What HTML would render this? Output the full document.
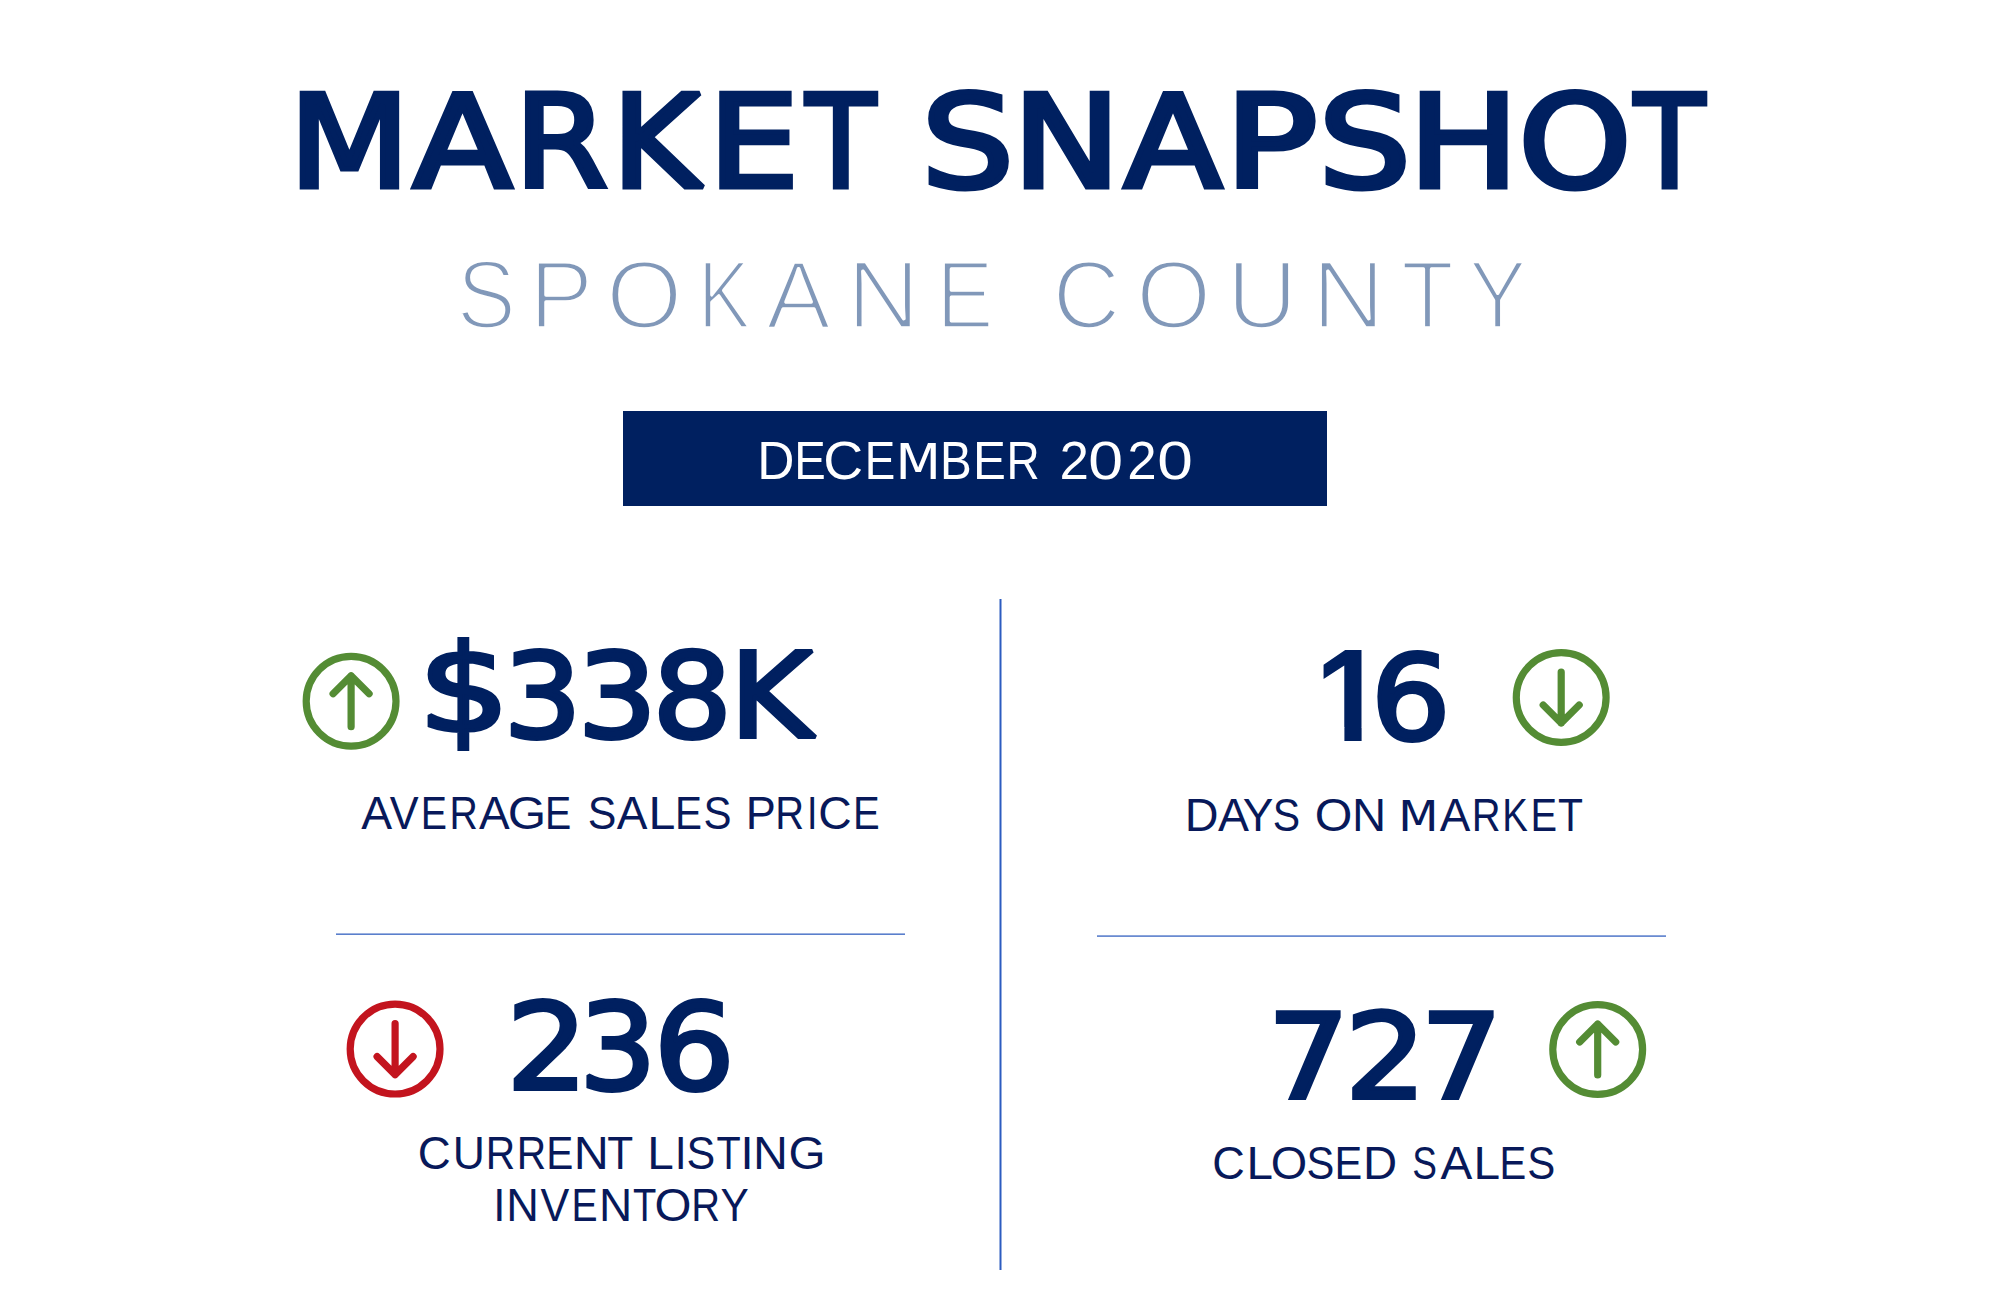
<!DOCTYPE html>
<html lang="en">
<head>
<meta charset="utf-8">
<title>Market Snapshot - Spokane County - December 2020</title>
<style>
html,body{margin:0;padding:0;background:#ffffff;}
body{width:2000px;height:1310px;overflow:hidden;position:relative;}
svg{position:absolute;left:0;top:0;display:block;}
</style>
</head>
<body>
<svg width="2000" height="1310" viewBox="0 0 2000 1310">
<defs><clipPath id="c16"><rect x="1200" y="560" width="400" height="167"/><rect x="1344.4" y="720" width="17.2" height="47"/><rect x="1383" y="727" width="200" height="40"/></clipPath></defs>
<rect x="0" y="0" width="2000" height="1310" fill="#ffffff"/>
<rect x="623" y="411" width="704" height="95" fill="#002060"/>
<rect x="999.5" y="599" width="2" height="671" fill="#2c5cc0"/>
<rect x="336" y="933.4" width="569" height="1.6" fill="#5a7fcc"/>
<rect x="1097" y="935.3" width="569" height="1.6" fill="#5a7fcc"/>
<text y="187.40" font-family="DejaVu Sans, sans-serif" font-weight="normal" font-size="128.67" fill="#002060" stroke="#002060" stroke-width="5.20" stroke-linejoin="miter" stroke-miterlimit="2"><tspan x="288.80" textLength="121.34" lengthAdjust="spacingAndGlyphs">M</tspan><tspan x="412.97" textLength="99.14" lengthAdjust="spacingAndGlyphs">A</tspan><tspan x="514.41" textLength="93.36" lengthAdjust="spacingAndGlyphs">R</tspan><tspan x="611.90" textLength="88.17" lengthAdjust="spacingAndGlyphs">K</tspan><tspan x="707.93" textLength="91.20" lengthAdjust="spacingAndGlyphs">E</tspan><tspan x="805.93" textLength="69.63" lengthAdjust="spacingAndGlyphs">T</tspan> <tspan x="921.49" textLength="92.52" lengthAdjust="spacingAndGlyphs">S</tspan><tspan x="1012.41" textLength="108.19" lengthAdjust="spacingAndGlyphs">N</tspan><tspan x="1123.98" textLength="98.11" lengthAdjust="spacingAndGlyphs">A</tspan><tspan x="1224.42" textLength="93.27" lengthAdjust="spacingAndGlyphs">P</tspan><tspan x="1318.49" textLength="92.52" lengthAdjust="spacingAndGlyphs">S</tspan><tspan x="1408.15" textLength="110.70" lengthAdjust="spacingAndGlyphs">H</tspan><tspan x="1518.55" textLength="112.91" lengthAdjust="spacingAndGlyphs">O</tspan><tspan x="1634.44" textLength="70.13" lengthAdjust="spacingAndGlyphs">T</tspan></text>
<text y="327.80" font-family="Liberation Sans, Arial, sans-serif" font-weight="normal" font-size="96.80" fill="#8198b9" stroke="#fff" stroke-width="3.60" stroke-linejoin="round"><tspan x="456.67" textLength="59.20" lengthAdjust="spacingAndGlyphs">S</tspan><tspan x="529.32" textLength="64.04" lengthAdjust="spacingAndGlyphs">P</tspan><tspan x="606.04" textLength="76.46" lengthAdjust="spacingAndGlyphs">O</tspan><tspan x="697.68" textLength="53.01" lengthAdjust="spacingAndGlyphs">K</tspan><tspan x="766.01" textLength="64.98" lengthAdjust="spacingAndGlyphs">A</tspan><tspan x="846.89" textLength="73.17" lengthAdjust="spacingAndGlyphs">N</tspan><tspan x="936.15" textLength="57.35" lengthAdjust="spacingAndGlyphs">E</tspan> <tspan x="1052.42" textLength="67.96" lengthAdjust="spacingAndGlyphs">C</tspan><tspan x="1136.11" textLength="75.32" lengthAdjust="spacingAndGlyphs">O</tspan><tspan x="1226.65" textLength="70.71" lengthAdjust="spacingAndGlyphs">U</tspan><tspan x="1311.89" textLength="73.17" lengthAdjust="spacingAndGlyphs">N</tspan><tspan x="1401.27" textLength="52.50" lengthAdjust="spacingAndGlyphs">T</tspan><tspan x="1468.79" textLength="57.92" lengthAdjust="spacingAndGlyphs">Y</tspan></text>
<text y="478.50" font-family="Liberation Sans, Arial, sans-serif" font-weight="normal" font-size="53.05" fill="#ffffff"><tspan x="757.28" textLength="37.19" lengthAdjust="spacingAndGlyphs">D</tspan><tspan x="794.13" textLength="31.50" lengthAdjust="spacingAndGlyphs">E</tspan><tspan x="823.19" textLength="39.91" lengthAdjust="spacingAndGlyphs">C</tspan><tspan x="864.65" textLength="30.52" lengthAdjust="spacingAndGlyphs">E</tspan><tspan x="895.44" font-family="DejaVu Sans, sans-serif" font-size="50.07" textLength="45.40" lengthAdjust="spacingAndGlyphs">M</tspan><tspan x="940.10" textLength="31.71" lengthAdjust="spacingAndGlyphs">B</tspan><tspan x="972.96" textLength="32.86" lengthAdjust="spacingAndGlyphs">E</tspan><tspan x="1006.43" textLength="33.20" lengthAdjust="spacingAndGlyphs">R</tspan> <tspan x="1059.54" textLength="29.42" lengthAdjust="spacingAndGlyphs">2</tspan><tspan x="1088.36" textLength="34.79" lengthAdjust="spacingAndGlyphs">0</tspan><tspan x="1127.14" textLength="29.42" lengthAdjust="spacingAndGlyphs">2</tspan><tspan x="1157.20" textLength="35.60" lengthAdjust="spacingAndGlyphs">0</tspan></text>
<text y="737.00" font-family="DejaVu Sans, sans-serif" font-weight="normal" font-size="117.97" fill="#002060" stroke="#002060" stroke-width="4.00" stroke-linejoin="miter" stroke-miterlimit="2"><tspan x="418.00" font-size="121.31" y="730.67" textLength="92.01" lengthAdjust="spacingAndGlyphs">$</tspan><tspan x="503.64" y="737.00" textLength="78.21" lengthAdjust="spacingAndGlyphs">3</tspan><tspan x="577.48" textLength="79.53" lengthAdjust="spacingAndGlyphs">3</tspan><tspan x="652.52" textLength="79.53" lengthAdjust="spacingAndGlyphs">8</tspan><tspan x="729.53" textLength="83.30" lengthAdjust="spacingAndGlyphs">K</tspan></text>
<text y="739.00" font-family="DejaVu Sans, sans-serif" font-weight="normal" font-size="117.97" fill="#002060" stroke="#002060" stroke-width="4.00" stroke-linejoin="miter" stroke-miterlimit="2" clip-path="url(#c16)"><tspan x="1315.09" font-family="Liberation Sans, Arial, sans-serif" font-weight="bold" font-size="130.82" stroke="none" y="741.00" textLength="69.80" lengthAdjust="spacingAndGlyphs">1</tspan><tspan x="1370.83" y="739.00" textLength="79.87" lengthAdjust="spacingAndGlyphs">6</tspan></text>
<text y="1088.50" font-family="DejaVu Sans, sans-serif" font-weight="normal" font-size="118.66" fill="#002060" stroke="#002060" stroke-width="4.00" stroke-linejoin="miter" stroke-miterlimit="2"><tspan x="506.45" textLength="81.23" lengthAdjust="spacingAndGlyphs">2</tspan><tspan x="579.16" textLength="77.15" lengthAdjust="spacingAndGlyphs">3</tspan><tspan x="653.81" textLength="81.01" lengthAdjust="spacingAndGlyphs">6</tspan></text>
<text y="1098.20" font-family="DejaVu Sans, sans-serif" font-weight="normal" font-size="117.97" fill="#002060" stroke="#002060" stroke-width="4.00" stroke-linejoin="miter" stroke-miterlimit="2"><tspan x="1267.43" textLength="81.98" lengthAdjust="spacingAndGlyphs">7</tspan><tspan x="1345.03" textLength="81.37" lengthAdjust="spacingAndGlyphs">2</tspan><tspan x="1420.63" textLength="81.98" lengthAdjust="spacingAndGlyphs">7</tspan></text>
<text y="829.30" font-family="Liberation Sans, Arial, sans-serif" font-weight="normal" font-size="46.22" fill="#08195a"><tspan x="361.21" textLength="30.88" lengthAdjust="spacingAndGlyphs">A</tspan><tspan x="389.81" textLength="28.88" lengthAdjust="spacingAndGlyphs">V</tspan><tspan x="420.78" textLength="26.21" lengthAdjust="spacingAndGlyphs">E</tspan><tspan x="449.48" textLength="28.34" lengthAdjust="spacingAndGlyphs">R</tspan><tspan x="479.11" textLength="30.68" lengthAdjust="spacingAndGlyphs">A</tspan><tspan x="507.72" textLength="38.37" lengthAdjust="spacingAndGlyphs">G</tspan><tspan x="544.98" textLength="26.21" lengthAdjust="spacingAndGlyphs">E</tspan> <tspan x="587.85" textLength="28.62" lengthAdjust="spacingAndGlyphs">S</tspan><tspan x="616.71" textLength="30.68" lengthAdjust="spacingAndGlyphs">A</tspan><tspan x="648.44" textLength="26.87" lengthAdjust="spacingAndGlyphs">L</tspan><tspan x="674.99" textLength="26.95" lengthAdjust="spacingAndGlyphs">E</tspan><tspan x="703.39" textLength="28.04" lengthAdjust="spacingAndGlyphs">S</tspan> <tspan x="745.70" textLength="30.08" lengthAdjust="spacingAndGlyphs">P</tspan><tspan x="775.33" textLength="28.83" lengthAdjust="spacingAndGlyphs">R</tspan><tspan x="806.94" textLength="10.43" lengthAdjust="spacingAndGlyphs">I</tspan><tspan x="818.25" textLength="33.41" lengthAdjust="spacingAndGlyphs">C</tspan><tspan x="853.02" textLength="26.70" lengthAdjust="spacingAndGlyphs">E</tspan></text>
<text y="831.40" font-family="Liberation Sans, Arial, sans-serif" font-weight="normal" font-size="45.64" fill="#08195a"><tspan x="1184.76" textLength="33.77" lengthAdjust="spacingAndGlyphs">D</tspan><tspan x="1217.91" textLength="30.98" lengthAdjust="spacingAndGlyphs">A</tspan><tspan x="1242.79" textLength="30.62" lengthAdjust="spacingAndGlyphs">Y</tspan><tspan x="1272.74" textLength="27.34" lengthAdjust="spacingAndGlyphs">S</tspan> <tspan x="1314.71" textLength="37.60" lengthAdjust="spacingAndGlyphs">O</tspan><tspan x="1352.12" textLength="34.13" lengthAdjust="spacingAndGlyphs">N</tspan> <tspan x="1398.22" font-family="DejaVu Sans, sans-serif" font-size="43.07" textLength="40.23" lengthAdjust="spacingAndGlyphs">M</tspan><tspan x="1439.81" textLength="30.58" lengthAdjust="spacingAndGlyphs">A</tspan><tspan x="1471.73" textLength="28.83" lengthAdjust="spacingAndGlyphs">R</tspan><tspan x="1502.35" textLength="25.58" lengthAdjust="spacingAndGlyphs">K</tspan><tspan x="1530.53" textLength="26.58" lengthAdjust="spacingAndGlyphs">E</tspan><tspan x="1558.08" textLength="24.96" lengthAdjust="spacingAndGlyphs">T</tspan></text>
<text y="1169.10" font-family="Liberation Sans, Arial, sans-serif" font-weight="normal" font-size="45.93" fill="#08195a"><tspan x="417.78" textLength="32.96" lengthAdjust="spacingAndGlyphs">C</tspan><tspan x="452.76" textLength="32.17" lengthAdjust="spacingAndGlyphs">U</tspan><tspan x="485.86" textLength="29.43" lengthAdjust="spacingAndGlyphs">R</tspan><tspan x="516.66" textLength="29.43" lengthAdjust="spacingAndGlyphs">R</tspan><tspan x="546.37" textLength="27.07" lengthAdjust="spacingAndGlyphs">E</tspan><tspan x="573.72" textLength="35.04" lengthAdjust="spacingAndGlyphs">N</tspan><tspan x="607.37" textLength="25.17" lengthAdjust="spacingAndGlyphs">T</tspan> <tspan x="647.29" textLength="26.49" lengthAdjust="spacingAndGlyphs">L</tspan><tspan x="674.84" textLength="11.92" lengthAdjust="spacingAndGlyphs">I</tspan><tspan x="686.54" textLength="28.73" lengthAdjust="spacingAndGlyphs">S</tspan><tspan x="716.41" textLength="24.20" lengthAdjust="spacingAndGlyphs">T</tspan><tspan x="740.55" textLength="13.11" lengthAdjust="spacingAndGlyphs">I</tspan><tspan x="753.03" textLength="34.91" lengthAdjust="spacingAndGlyphs">N</tspan><tspan x="788.50" textLength="37.05" lengthAdjust="spacingAndGlyphs">G</tspan></text>
<text y="1220.90" font-family="Liberation Sans, Arial, sans-serif" font-weight="normal" font-size="45.35" fill="#08195a"><tspan x="493.34" textLength="12.21" lengthAdjust="spacingAndGlyphs">I</tspan><tspan x="506.30" textLength="32.58" lengthAdjust="spacingAndGlyphs">N</tspan><tspan x="540.41" textLength="28.78" lengthAdjust="spacingAndGlyphs">V</tspan><tspan x="571.59" textLength="26.09" lengthAdjust="spacingAndGlyphs">E</tspan><tspan x="598.93" textLength="33.23" lengthAdjust="spacingAndGlyphs">N</tspan><tspan x="632.94" textLength="23.33" lengthAdjust="spacingAndGlyphs">T</tspan><tspan x="654.45" textLength="36.92" lengthAdjust="spacingAndGlyphs">O</tspan><tspan x="691.23" textLength="28.83" lengthAdjust="spacingAndGlyphs">R</tspan><tspan x="720.57" textLength="28.26" lengthAdjust="spacingAndGlyphs">Y</tspan></text>
<text y="1179.30" font-family="Liberation Sans, Arial, sans-serif" font-weight="normal" font-size="46.22" fill="#08195a"><tspan x="1212.21" textLength="32.50" lengthAdjust="spacingAndGlyphs">C</tspan><tspan x="1246.59" textLength="26.49" lengthAdjust="spacingAndGlyphs">L</tspan><tspan x="1270.78" textLength="36.46" lengthAdjust="spacingAndGlyphs">O</tspan><tspan x="1306.61" textLength="27.81" lengthAdjust="spacingAndGlyphs">S</tspan><tspan x="1334.59" textLength="27.69" lengthAdjust="spacingAndGlyphs">E</tspan><tspan x="1363.12" textLength="34.14" lengthAdjust="spacingAndGlyphs">D</tspan> <tspan x="1412.32" textLength="24.68" lengthAdjust="spacingAndGlyphs">S</tspan><tspan x="1440.51" textLength="31.79" lengthAdjust="spacingAndGlyphs">A</tspan><tspan x="1473.57" textLength="26.61" lengthAdjust="spacingAndGlyphs">L</tspan><tspan x="1499.52" textLength="26.70" lengthAdjust="spacingAndGlyphs">E</tspan><tspan x="1527.29" textLength="28.04" lengthAdjust="spacingAndGlyphs">S</tspan></text>
<circle cx="351.10" cy="701.25" r="44.90" fill="none" stroke="#548c34" stroke-width="7.20"/><path d="M351.10 726.75V675.75M333.10 693.75L351.10 675.75L369.10 693.75" fill="none" stroke="#548c34" stroke-width="7.20" stroke-linecap="round" stroke-linejoin="round"/>
<circle cx="1561.20" cy="697.50" r="44.90" fill="none" stroke="#548c34" stroke-width="7.20"/><path d="M1561.20 672.00V723.00M1543.20 705.00L1561.20 723.00L1579.20 705.00" fill="none" stroke="#548c34" stroke-width="7.20" stroke-linecap="round" stroke-linejoin="round"/>
<circle cx="395.10" cy="1049.10" r="44.90" fill="none" stroke="#c3141e" stroke-width="7.20"/><path d="M395.10 1023.60V1074.60M377.10 1056.60L395.10 1074.60L413.10 1056.60" fill="none" stroke="#c3141e" stroke-width="7.20" stroke-linecap="round" stroke-linejoin="round"/>
<circle cx="1597.70" cy="1049.50" r="44.90" fill="none" stroke="#548c34" stroke-width="7.20"/><path d="M1597.70 1075.00V1024.00M1579.70 1042.00L1597.70 1024.00L1615.70 1042.00" fill="none" stroke="#548c34" stroke-width="7.20" stroke-linecap="round" stroke-linejoin="round"/>
</svg>
</body>
</html>
